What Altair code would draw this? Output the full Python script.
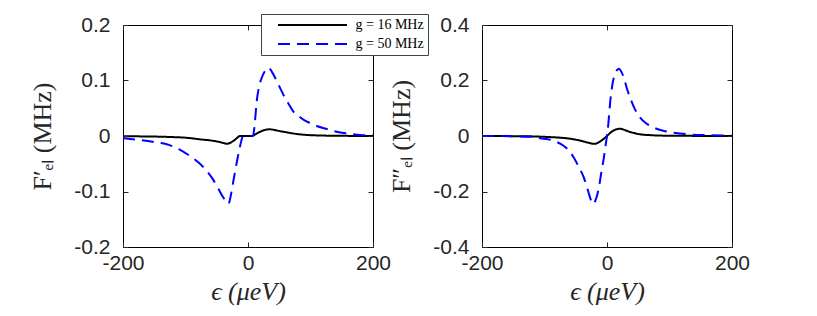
import altair as alt
import pandas as pd

# ---- data ----
series = ["g = 16 MHz", "g = 50 MHz"]
colors = ["#000000", "#0000ff"]
dashes = [[1, 0], [12, 7]]

# Left panel: F'_el (MHz)
eps_fp_16 = [-200, -150, -120, -100, -77, -60, -45, -38, -34, -30, -25, -20, -16, -13,
             0, 6, 10, 15, 20, 27, 35, 42, 50, 60, 70, 83, 100, 136, 200]
fp_16 = [-0.0005, -0.001, -0.002, -0.003, -0.006, -0.008, -0.011, -0.013, -0.014, -0.013,
         -0.010, -0.006, -0.002, 0.0, 0.0, 0.0, 0.002, 0.005, 0.008, 0.011, 0.012, 0.011,
         0.009, 0.007, 0.005, 0.003, 0.0015, 0.0005, 0.0]

eps_fp_50 = [-200, -175, -150, -130, -110, -93, -80, -66, -55, -47, -40, -35, -31, -28, -24,
             -20, -16, -12, -8, 0, 8, 11, 14, 18, 22, 26, 30, 33, 38, 46, 52, 59, 66, 72, 80,
             88, 100, 110, 125, 137, 150, 163, 180, 200]
fp_50 = [-0.004, -0.007, -0.011, -0.015, -0.024, -0.036, -0.047, -0.063, -0.080, -0.096,
         -0.110, -0.118, -0.122, -0.110, -0.085, -0.060, -0.036, -0.015, 0.0, 0.0, 0.0,
         0.025, 0.063, 0.090, 0.105, 0.115, 0.121, 0.123, 0.116, 0.099, 0.085, 0.069, 0.056,
         0.045, 0.037, 0.030, 0.023, 0.018, 0.013, 0.009, 0.006, 0.004, 0.002, 0.001]

# Right panel: F''_el (MHz)
eps_fpp_16 = [-200, -130, -91, -70, -53, -40, -30, -21, -15, -10, -5, 0, 5, 10, 15, 21, 28,
              35, 45, 53, 70, 100, 200]
fpp_16 = [0.0, -0.001, -0.004, -0.007, -0.012, -0.018, -0.024, -0.028, -0.025, -0.018,
          -0.010, 0.0, 0.011, 0.019, 0.024, 0.026, 0.022, 0.016, 0.010, 0.006, 0.003, 0.001, 0.0]

eps_fpp_50 = [-200, -150, -120, -107, -90, -80, -69, -60, -53, -45, -37, -30, -25, -22, -19,
              -13, -9, -5, -2, 0, 2, 5, 9, 13, 17, 19, 22, 27, 32, 37, 45, 53, 63, 75, 90,
              107, 130, 160, 200]
fpp_50 = [0.0, -0.001, -0.003, -0.008, -0.014, -0.022, -0.036, -0.055, -0.078, -0.112,
          -0.150, -0.200, -0.235, -0.245, -0.235, -0.186, -0.130, -0.078, -0.030, 0.0, 0.040,
          0.120, 0.190, 0.225, 0.240, 0.242, 0.235, 0.210, 0.170, 0.138, 0.095, 0.066, 0.045,
          0.030, 0.019, 0.012, 0.006, 0.003, 0.001]

x_ticks = [-200, 0, 200]
y_ticks_left = [-0.2, -0.1, 0, 0.1, 0.2]
y_ticks_right = [-0.4, -0.2, 0, 0.2, 0.4]


def make_df(e16, v16, e50, v50):
    rows = [{"eps": e, "val": v, "series": series[0], "o": 0} for e, v in zip(e16, v16)]
    rows += [{"eps": e, "val": v, "series": series[1], "o": 1} for e, v in zip(e50, v50)]
    return pd.DataFrame(rows)


df_left = make_df(eps_fp_16, fp_16, eps_fp_50, fp_50)
df_right = make_df(eps_fpp_16, fpp_16, eps_fpp_50, fpp_50)

TICK = 5
LABEL_EXPR = "'' + datum.value"
# axes are pulled inside the frame by the tick length so that ticks point inward
LBL = dict(labelFont="Liberation Sans", labelFontSize=21, labelColor="#262626",
           tickColor="#262626", tickWidth=1, tickOpacity=1, ticks=True, tickSize=TICK,
           offset=-TICK, grid=False, domain=False, zindex=2)


def panel(df, ydom, yticks, ytitle, show_legend):
    if show_legend:
        leg = alt.Legend(
            orient="none", legendX=138, legendY=-11, title=None,
            symbolType="M-6.9,0H6.9", symbolSize=100, symbolStrokeWidth=2,
            symbolOffset=40.5, labelOffset=36,
            labelFont="Liberation Serif", labelFontSize=14, labelColor="#000000",
            strokeColor="#444444", fillColor="#ffffff", padding=4, rowPadding=5,
            zindex=3,
        )
    else:
        leg = None
    base = alt.Chart(df)
    xs = alt.Scale(domain=[-200, 200], nice=False, zero=False)
    ys = alt.Scale(domain=ydom, nice=False, zero=False)
    lines = base.mark_line(strokeWidth=2, interpolate="monotone").encode(
        x=alt.X("eps:Q", scale=xs, axis=alt.Axis(
            orient="bottom", values=x_ticks, title="ϵ (μeV)", labelExpr=LABEL_EXPR,
            labelPadding=5, labelFlush=False, titlePadding=5,
            titleFont="Liberation Serif", titleFontStyle="italic", titleFontSize=26,
            titleFontWeight="normal", titleColor="#262626", **LBL)),
        y=alt.Y("val:Q", scale=ys, axis=alt.Axis(
            orient="left", values=yticks, title=ytitle, labelExpr=LABEL_EXPR,
            labelPadding=13, titlePadding=18,
            titleFont="Liberation Serif", titleFontSize=26, titleFontWeight="normal",
            titleColor="#262626", **LBL)),
        color=alt.Color("series:N", scale=alt.Scale(domain=series, range=colors), legend=leg),
        strokeDash=alt.StrokeDash("series:N", scale=alt.Scale(domain=series, range=dashes), legend=leg),
        order="o:Q",
    )
    mirror = base.mark_line(opacity=0).encode(
        x=alt.X("eps:Q", scale=xs, axis=alt.Axis(
            orient="top", values=x_ticks, labels=False, title=None, **LBL)),
        y=alt.Y("val:Q", scale=ys, axis=alt.Axis(
            orient="right", values=yticks, labels=False, title=None, **LBL)),
        detail="series:N",
    )
    return alt.layer(lines, mirror).resolve_axis(x="independent", y="independent").properties(
        width=250, height=222)


left = panel(df_left, [-0.2, 0.2], y_ticks_left, "F′ₑₗ (MHz)", True)
right = panel(df_right, [-0.4, 0.4], y_ticks_right, "F″ₑₗ (MHz)", False)

chart = alt.hconcat(left, right, spacing=109, bounds="flush").resolve_scale(
    color="independent", strokeDash="independent"
).properties(
    padding={"left": 21, "top": 5, "right": 5, "bottom": 5}
).configure_view(
    stroke="#000000", strokeWidth=1
)

chart.save("out.html", embed_options={"renderer": "svg", "actions": False})
